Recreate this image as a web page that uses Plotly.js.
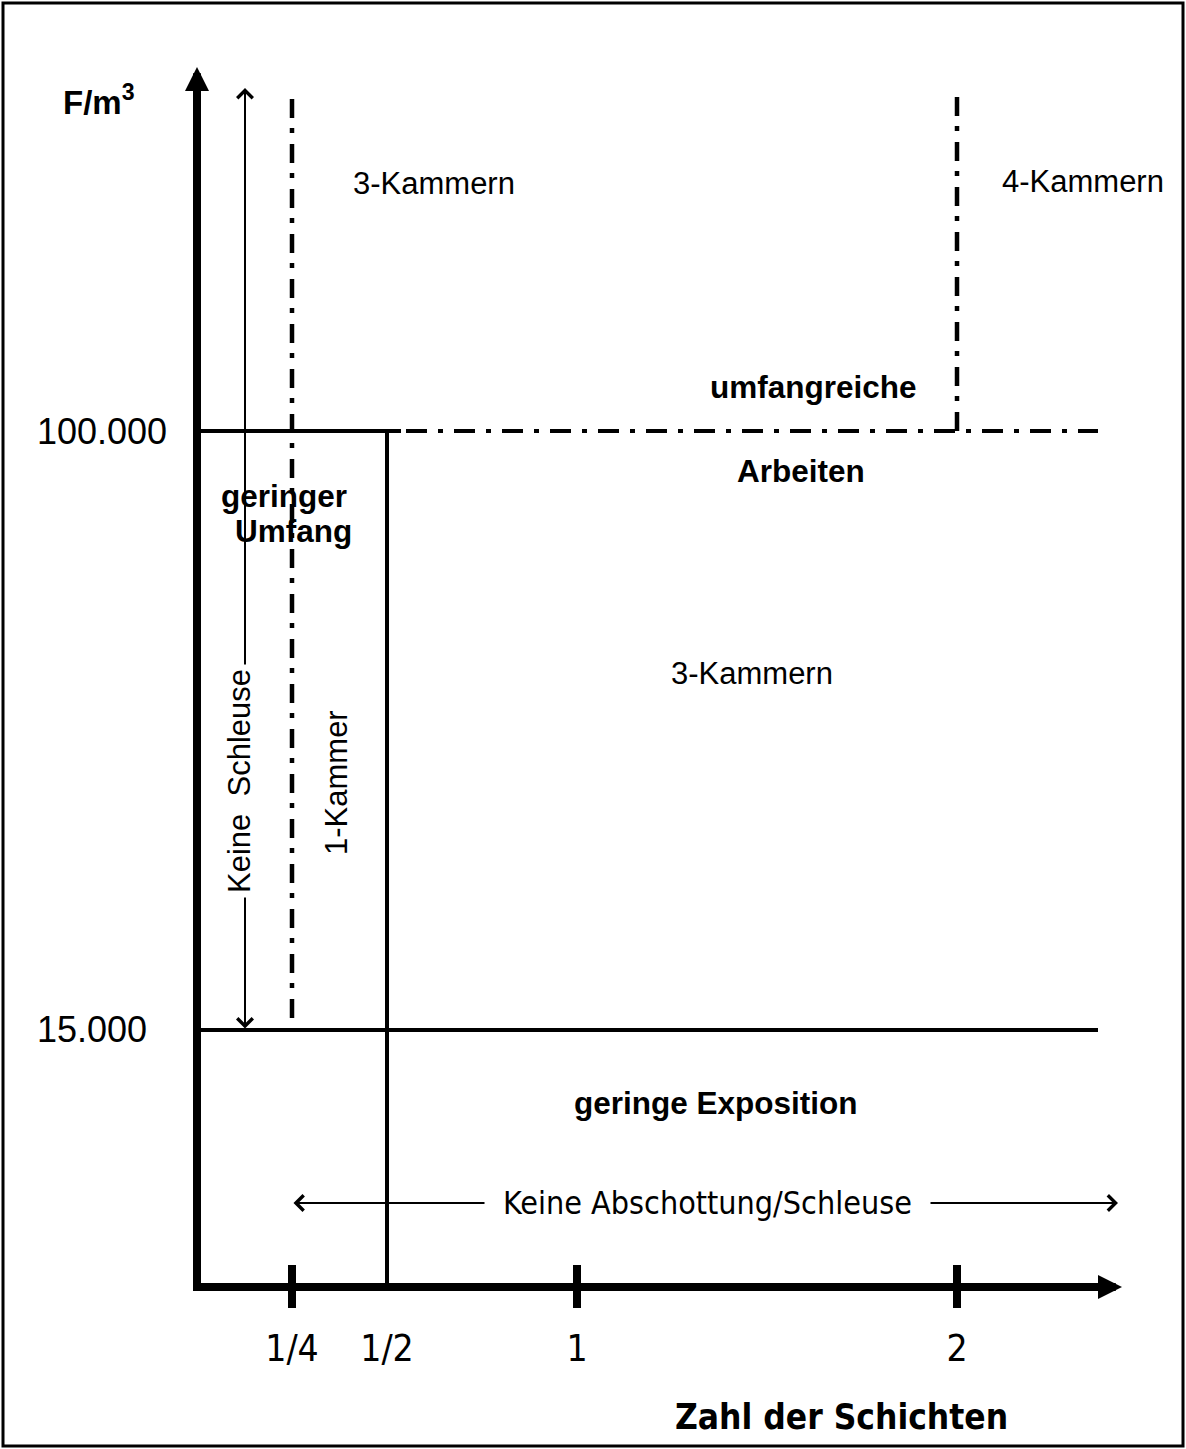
<!DOCTYPE html>
<html><head><meta charset="utf-8">
<script src="https://cdn.plot.ly/plotly-3.0.1.min.js"></script>
<style>html,body{margin:0;padding:0;background:#fff}</style>
</head><body><div id="chart" style="width:1186px;height:1449px"></div>
<script>
// ---------------- data ----------------
const xTickVals = [0.25, 0.5, 1, 2];
const xTickText = ['1/4', '1/2', '1', '2'];
const xCrossTicks = [0.25, 1, 2];
const yThresholdVals = [15000, 100000];
const yThresholdText = ['15.000', '100.000'];
const oneChamberLimit = 0.5;     // Zahl der Schichten
const quarterLimit = 0.25;
const fourChamberLimit = 2;
const yTitle = 'F/m<sup>3</sup>';
const xTitle = 'Zahl der Schichten';
const regionTexts = ['3-Kammern', '4-Kammern', 'umfangreiche', 'Arbeiten', 'geringer', 'Umfang',
                     '3-Kammern', 'Keine\u00A0\u00A0Schleuse', '1-Kammer', 'geringe Exposition'];
const noLockText = 'Keine Abschottung/Schleuse';

// ---------------- geometry (layout only) ----------------
const W = 1186, H = 1449;
const ML = 201, MR = 88, MT = 90, MB = 166;
const PW = W - ML - MR, PH = H - MT - MB;
const X0PX = 197, XS = 380, Y5PX = 431, YS = 727;
const xAt = px => (px - X0PX) / XS;
const yAt = py => 5 - (py - Y5PX) / YS;
const pX = px => (px - ML) / PW;
const pY = py => (H - MB - py) / PH;
const L = v => Math.log10(v);

const xRange = [xAt(ML), xAt(W - MR)];
const yRange = [yAt(H - MB), yAt(MT)];

const REG = 'Liberation Sans, Arial, sans-serif';
const NARROW = 'Liberation Sans Narrow, Arial Narrow, DejaVu Sans Condensed, sans-serif';

const regionStyle = [
  {px: 434, py: 183, bold: false, angle: 0},
  {px: 1083, py: 181, bold: false, angle: 0},
  {px: 813, py: 387, bold: true, angle: 0},
  {px: 801, py: 471, bold: true, angle: 0},
  {px: 284, py: 496, bold: true, angle: 0},
  {px: 293, py: 531, bold: true, angle: 0},
  {px: 752, py: 673, bold: false, angle: 0},
  {px: 239, py: 781, bold: false, angle: -90, bg: true},
  {px: 336, py: 783, bold: false, angle: -90},
  {px: 716, py: 1103, bold: true, angle: 0}
];

const dashV = '19px,11px,5px,10px';
const dashH = '21px,11px,5px,11px';
const lowY = L(yThresholdVals[0]);
const highY = L(yThresholdVals[1]);

const shapes = [];
// frame
shapes.push({type: 'rect', xref: 'paper', yref: 'paper', x0: pX(3), x1: pX(1183), y0: pY(1446), y1: pY(3),
             line: {color: '#000', width: 3}});
// 15.000 line
shapes.push({type: 'line', xref: 'x', yref: 'y', x0: 0, x1: xRange[1], y0: lowY, y1: lowY,
             line: {color: '#000', width: 4}});
// 100.000 solid part
shapes.push({type: 'line', xref: 'x', yref: 'y', x0: 0, x1: xAt(401), y0: highY, y1: highY,
             line: {color: '#000', width: 4}});
// 100.000 dash-dot part
shapes.push({type: 'line', xref: 'x', yref: 'y', x0: xAt(406), x1: xRange[1], y0: highY, y1: highY,
             line: {color: '#000', width: 4, dash: dashH}});
// 1/2 vertical
shapes.push({type: 'line', xref: 'x', yref: 'y', x0: oneChamberLimit, x1: oneChamberLimit, y0: yRange[0], y1: highY,
             line: {color: '#000', width: 4}});
// 1/4 dash-dot vertical
shapes.push({type: 'line', xref: 'x', yref: 'y', x0: quarterLimit, x1: quarterLimit, y0: yAt(1018), y1: yAt(92),
             line: {color: '#000', width: 4.5, dash: dashV}});
// 2 dash-dot vertical
shapes.push({type: 'line', xref: 'x', yref: 'y', x0: fourChamberLimit, x1: fourChamberLimit, y0: highY, y1: yAt(92),
             line: {color: '#000', width: 4.5, dash: dashV}});
// tick crosses
xCrossTicks.forEach(t => shapes.push({type: 'line', xref: 'x', yref: 'paper', ysizemode: 'pixel', yanchor: 0,
  x0: t, x1: t, y0: -25, y1: 18, line: {color: '#000', width: 8}}));

const ann = [];
// axis arrow heads
ann.push({xref: 'paper', yref: 'paper', x: pX(197), y: pY(67), axref: 'pixel', ayref: 'pixel', ax: 0, ay: 24,
          text: '', showarrow: true, arrowhead: 2, arrowsize: 0.6, arrowwidth: 8, arrowcolor: '#000'});
ann.push({xref: 'paper', yref: 'paper', x: pX(1122), y: pY(1287), axref: 'pixel', ayref: 'pixel', ax: -24, ay: 0,
          text: '', showarrow: true, arrowhead: 2, arrowsize: 0.6, arrowwidth: 8, arrowcolor: '#000'});
// thin vertical double arrow (Keine Schleuse)
ann.push({xref: 'x', yref: 'y', x: xAt(245), y: yAt(88), axref: 'x', ayref: 'y', ax: xAt(245), ay: lowY,
          text: '', showarrow: true, arrowside: 'end+start', arrowhead: 4, startarrowhead: 4,
          arrowsize: 1.5, startarrowsize: 1.5, arrowwidth: 2, arrowcolor: '#000'});
// thin horizontal double arrow (Keine Abschottung)
ann.push({xref: 'x', yref: 'y', x: xAt(1118), y: yAt(1203), axref: 'x', ayref: 'y', ax: quarterLimit, ay: yAt(1203),
          text: '', showarrow: true, arrowside: 'end+start', arrowhead: 4, startarrowhead: 4,
          arrowsize: 1.5, startarrowsize: 1.5, arrowwidth: 2, arrowcolor: '#000'});
// region labels
regionTexts.forEach((t, i) => {
  const s = regionStyle[i];
  ann.push({xref: 'x', yref: 'y', x: xAt(s.px), y: yAt(s.py), text: t, showarrow: false,
            textangle: s.angle, xanchor: 'center', yanchor: 'middle',
            bgcolor: s.bg ? '#fff' : 'rgba(0,0,0,0)', borderpad: s.bg ? 4 : 0,
            font: {family: REG, size: s.bold ? 31.5 : 31, color: '#000', weight: s.bold ? 700 : 400}});
});
ann.push({xref: 'x', yref: 'y', x: xAt(707), y: yAt(1203), text: noLockText, showarrow: false,
          xanchor: 'center', yanchor: 'middle', bgcolor: '#fff', borderpad: 18,
          font: {family: NARROW, size: 32, color: '#000'}});
// y threshold labels
yThresholdVals.forEach((v, i) => ann.push({xref: 'paper', yref: 'y', x: pX(35), y: L(v), text: yThresholdText[i],
  showarrow: false, xanchor: 'left', yanchor: 'middle', font: {family: REG, size: 36, color: '#000'}}));
// titles
ann.push({xref: 'paper', yref: 'paper', x: pX(61), y: pY(100), text: yTitle, showarrow: false,
          xanchor: 'left', yanchor: 'middle', font: {family: REG, size: 33, color: '#000', weight: 700}});
ann.push({xref: 'paper', yref: 'paper', x: pX(841), y: pY(1417), text: xTitle, showarrow: false,
          xanchor: 'center', yanchor: 'middle', font: {family: NARROW, size: 35, color: '#000', weight: 700}});

const layout = {
  width: W, height: H, margin: {l: ML, r: MR, t: MT, b: MB},
  paper_bgcolor: '#fff', plot_bgcolor: '#fff', showlegend: false,
  xaxis: {range: xRange, showgrid: false, zeroline: false, showline: true, linewidth: 8, linecolor: '#000',
          ticks: '', tickvals: xTickVals, ticktext: xTickText, ticklabelstandoff: 26,
          tickfont: {family: NARROW, size: 37, color: '#000'}, fixedrange: true},
  yaxis: {range: yRange, showgrid: false, zeroline: false, showline: true, linewidth: 8, linecolor: '#000',
          ticks: '', showticklabels: false, fixedrange: true},
  shapes: shapes, annotations: ann
};

Plotly.newPlot('chart', [{x: [], y: [], type: 'scatter', mode: 'lines', hoverinfo: 'skip'}], layout,
               {displayModeBar: false, staticPlot: true});
</script></body></html>
